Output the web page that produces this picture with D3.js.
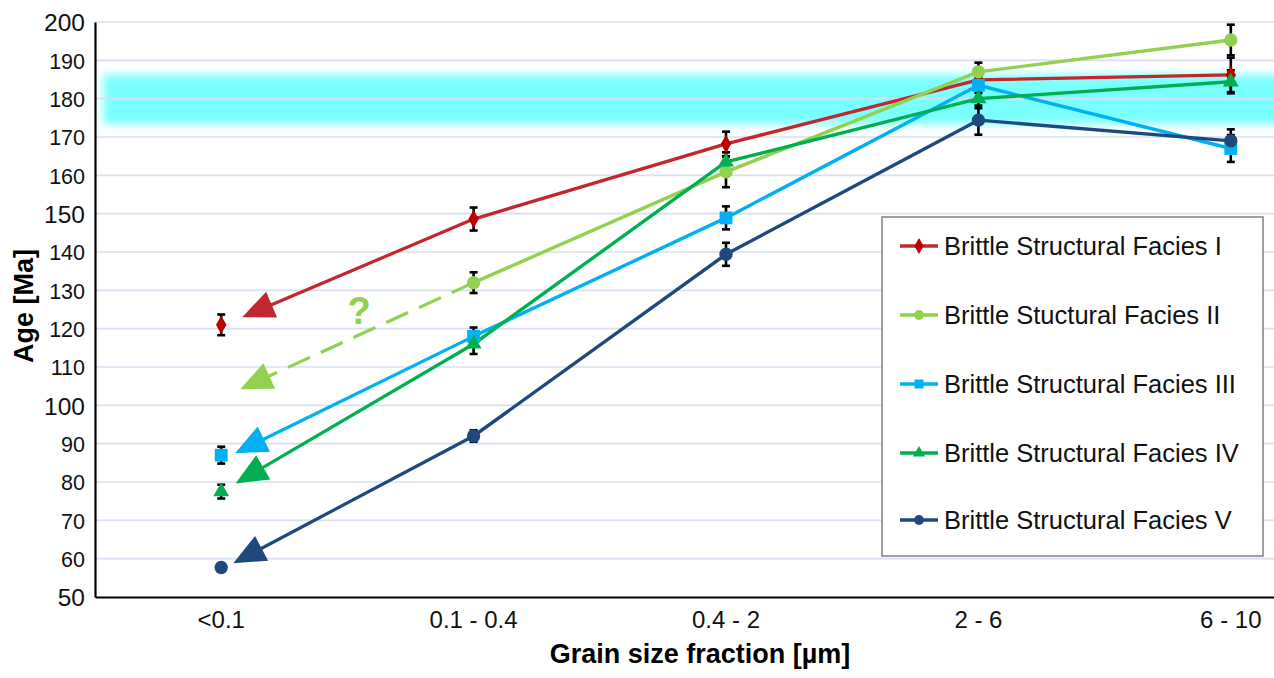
<!DOCTYPE html>
<html>
<head>
<meta charset="utf-8">
<script src="https://cdn.jsdelivr.net/npm/d3@7"></script>
<style>
  html, body { margin: 0; padding: 0; background: #fff; }
  svg { display: block; font-family: "Liberation Sans", Arial, sans-serif; }
</style>
</head>
<body>
<svg id="chart" width="1274" height="678"></svg>
<script>
// ---------- data ----------
const categories = ["<0.1", "0.1 - 0.4", "0.4 - 2", "2 - 6", "6 - 10"];
const seriesNames = [
  "Brittle Structural Facies I",
  "Brittle Stuctural Facies II",
  "Brittle Structural Facies III",
  "Brittle Structural Facies IV",
  "Brittle Structural Facies V"
];
const valuesI   = [121.0, 148.6, 168.2, 184.9, 186.2];
const valuesII  = [null,  132.0, 160.9, 187.0, 195.3];
const valuesIII = [87.0,  118.0, 148.9, 183.5, 167.0];
const valuesIV  = [77.5,  116.0, 163.5, 180.0, 184.4];
const valuesV   = [57.7,  92.0,  139.4, 174.4, 169.0];
const errorsI   = [2.7, 3.0, 3.2, 1.8, 4.5];
const errorsII  = [null, 2.7, 4.0, 2.4, 4.0];
const errorsIII = [2.2, 2.3, 3.0, 2.0, 3.5];
const errorsIV  = [1.8, 2.6, 2.5, 2.5, 3.0];
const errorsV   = [1.0, 1.5, 3.0, 3.8, 3.0];
// annotation arrows: from the 0.1-0.4 value toward an age at the <0.1 fraction
const arrowTargets = [123.0, 104.2, 87.5, 79.6, 58.8];
const arrowTipShift = [0.083, 0.075, 0.055, 0.057, 0.048]; // fraction of band width right of "<0.1"
const yTicks = [50, 60, 70, 80, 90, 100, 110, 120, 130, 140, 150, 160, 170, 180, 190, 200];
const referenceBand = [173.3, 186.3];

// ---------- styles ----------
const lineColors   = ["#C4262E", "#92D050", "#00B0F0", "#00B050", "#1F497D"];
const markerColors = ["#C00000", "#92D050", "#00B0F0", "#00B050", "#1F497D"];
const markerShapes = ["diamond", "circle", "square", "triangle", "circle"];

const series = seriesNames.map((name, i) => ({
  name,
  values: [valuesI, valuesII, valuesIII, valuesIV, valuesV][i],
  errors: [errorsI, errorsII, errorsIII, errorsIV, errorsV][i],
  line: lineColors[i], marker: markerColors[i], shape: markerShapes[i],
  target: arrowTargets[i], shift: arrowTipShift[i], dashed: i === 1
}));

const svg = d3.select("#chart");
const W = 1274, H = 678;
svg.append("rect").attr("width", W).attr("height", H).attr("fill", "#fff");

const plotLeft = 95, plotTop = 22, plotBottom = 597;
const x = d3.scaleBand().domain(categories).range([plotLeft, plotLeft + 1262]).padding(0);
const y = d3.scaleLinear().domain([50, 200]).range([plotBottom, plotTop]);
const cx = c => x(c) + x.bandwidth() / 2;

const defs = svg.append("defs");
defs.append("filter").attr("id", "blur").attr("x", "-5%").attr("y", "-50%").attr("width", "110%").attr("height", "200%")
  .append("feGaussianBlur").attr("stdDeviation", "4");
defs.append("clipPath").attr("id", "plotClip").append("rect")
  .attr("x", plotLeft + 1).attr("y", 0).attr("width", W).attr("height", plotBottom);

// reference band (cyan glow)
svg.append("g").attr("clip-path", "url(#plotClip)")
  .append("rect")
  .attr("x", plotLeft + 8).attr("width", W)
  .attr("y", y(referenceBand[1])).attr("height", y(referenceBand[0]) - y(referenceBand[1]))
  .attr("fill", "#7AFFFF").attr("filter", "url(#blur)");

// gridlines
svg.append("g").selectAll("line").data(yTicks.filter(t => t > 50)).join("line")
  .attr("x1", plotLeft).attr("x2", W).attr("y1", d => y(d)).attr("y2", d => y(d))
  .attr("stroke", "#D6E0F0").attr("stroke-width", 1.6);

// y axis
const yAxis = d3.axisLeft(y).tickValues(yTicks).tickSize(0).tickPadding(10).tickFormat(d3.format("d"));
const gy = svg.append("g").attr("transform", `translate(${plotLeft},0)`).call(yAxis);
gy.select(".domain").attr("stroke", "#000").attr("stroke-width", 2.2);
gy.selectAll(".tick text")
  .attr("font-family", "'Liberation Sans', Arial, sans-serif")
  .attr("font-size", d => d % 50 === 0 ? 24.5 : 21.5)
  .attr("fill", "#111")
  .attr("dy", "0.36em");

// x axis
const xAxis = d3.axisBottom(x).tickSize(0).tickPadding(14);
const gx = svg.append("g").attr("transform", `translate(0,${plotBottom})`).call(xAxis);
gx.select(".domain").attr("stroke", "#000").attr("stroke-width", 2.2);
gx.selectAll(".tick text")
  .attr("font-family", "'Liberation Sans', Arial, sans-serif")
  .attr("font-size", 24).attr("fill", "#111");

// axis titles
svg.append("text").attr("transform", `translate(33,${306}) rotate(-90)`)
  .attr("text-anchor", "middle").attr("font-weight", "bold").attr("font-size", 27)
  .text("Age [Ma]");
svg.append("text").attr("x", 700).attr("y", 663)
  .attr("text-anchor", "middle").attr("font-weight", "bold").attr("font-size", 27)
  .text("Grain size fraction [µm]");

// marker helper
function marker(g, shape, size, color) {
  const sym = {
    diamond: d3.symbolDiamond, circle: d3.symbolCircle,
    square: d3.symbolSquare, triangle: d3.symbolTriangle
  }[shape];
  return g.append("path").attr("d", d3.symbol(sym, size)()).attr("fill", color);
}
const markerSize = { diamond: 95, circle: 140, square: 165, triangle: 110 };

// annotation arrows
const arrowG = svg.append("g");
series.forEach(s => {
  const x0 = cx(categories[1]), y0 = y(s.values[1]);
  const x1 = cx(categories[0]) + s.shift * x.bandwidth(), y1 = y(s.target);
  const dx = x1 - x0, dy = y1 - y0, L = Math.hypot(dx, dy);
  const ux = dx / L, uy = dy / L, nx = -uy, ny = ux;
  const headL = 32, headW = 14;
  const bx = x1 - ux * headL, by = y1 - uy * headL;
  arrowG.append("line").attr("x1", x0).attr("y1", y0).attr("x2", bx + ux * 2).attr("y2", by + uy * 2)
    .attr("stroke", s.line).attr("stroke-width", 3.2)
    .attr("stroke-dasharray", s.dashed ? "24 12" : null);
  arrowG.append("path")
    .attr("d", `M${x1},${y1}L${bx + nx * headW},${by + ny * headW}L${bx - nx * headW},${by - ny * headW}Z`)
    .attr("fill", s.line);
});
svg.append("text").attr("x", 359).attr("y", 324).attr("text-anchor", "middle")
  .attr("font-weight", "bold").attr("font-size", 38).attr("fill", "#92D050").text("?");

// series lines (from 0.1-0.4 onward)
const lineGen = d3.line().defined(d => d.v != null).x(d => cx(d.c)).y(d => y(d.v));
series.forEach(s => {
  const pts = categories.map((c, i) => ({ c, v: s.values[i] })).slice(1);
  svg.append("path").datum(pts).attr("d", lineGen)
    .attr("fill", "none").attr("stroke", s.line).attr("stroke-width", 3.4)
    .attr("stroke-linejoin", "round").attr("clip-path", "url(#plotClip)");
});

// error bars
const errG = svg.append("g").attr("stroke", "#000").attr("stroke-width", 2.6);
series.forEach(s => {
  s.values.forEach((v, i) => {
    if (v == null || s.errors[i] == null) return;
    const xc = cx(categories[i]), yt = y(v + s.errors[i]), yb = y(v - s.errors[i]);
    errG.append("line").attr("x1", xc).attr("x2", xc).attr("y1", yt).attr("y2", yb);
    errG.append("line").attr("x1", xc - 4).attr("x2", xc + 4).attr("y1", yt).attr("y2", yt);
    errG.append("line").attr("x1", xc - 4).attr("x2", xc + 4).attr("y1", yb).attr("y2", yb);
  });
});

// markers
series.forEach(s => {
  s.values.forEach((v, i) => {
    if (v == null) return;
    const g = svg.append("g").attr("transform", `translate(${cx(categories[i])},${y(v)})`);
    marker(g, s.shape, markerSize[s.shape], s.marker);
  });
});

// legend
const lg = svg.append("g");
lg.append("rect").attr("x", 882).attr("y", 217).attr("width", 381).attr("height", 339)
  .attr("fill", "#fff").attr("stroke", "#888").attr("stroke-width", 1.6);
const legendY = [246, 315, 384, 453, 520];
const legendMarkerSize = { diamond: 75, circle: 75, square: 80, triangle: 65 };
series.forEach((s, i) => {
  const ly = legendY[i];
  lg.append("line").attr("x1", 900).attr("x2", 938).attr("y1", ly).attr("y2", ly)
    .attr("stroke", s.line).attr("stroke-width", 3.4);
  const g = lg.append("g").attr("transform", `translate(919,${ly})`);
  marker(g, s.shape, legendMarkerSize[s.shape], s.marker);
  lg.append("text").attr("x", 944).attr("y", ly).attr("dy", "0.36em")
    .attr("font-size", 25.5).attr("fill", "#111").text(s.name);
});
</script>
</body>
</html>
